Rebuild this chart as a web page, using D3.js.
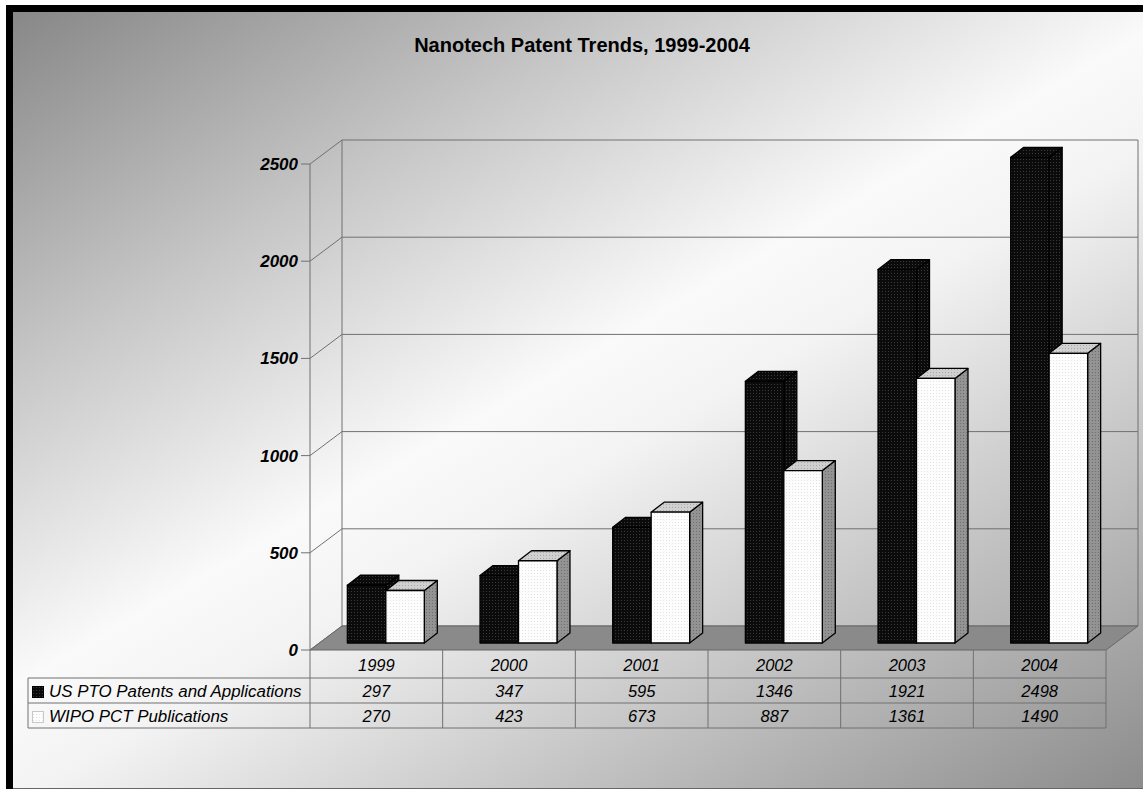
<!DOCTYPE html>
<html>
<head>
<meta charset="utf-8">
<script src="https://cdn.jsdelivr.net/npm/d3@7"></script>
<style>
	body { margin: 0; background: #ffffff; }
	text { font-family: Arial, "Liberation Sans", sans-serif; }
</style>
</head>
<body>
<div id="wrapper"></div>
<script>
const years = ["1999", "2000", "2001", "2002", "2003", "2004"];
const usPto = [297, 347, 595, 1346, 1921, 2498];
const wipo = [270, 423, 673, 887, 1361, 1490];
const seriesNames = ["US PTO Patents and Applications", "WIPO PCT Publications"];
const yTicks = [0, 500, 1000, 1500, 2000, 2500];

function drawChart() {
	let dimensions = {
		width: 1143,
		height: 789,
		plot: { left: 310, right: 1106, top: 164, bottom: 650 }
	};

	const wallDepth = { dx: 32, dy: -24 };
	const barShift = { dx: 9.5, dy: -7 };
	const barDepth = { dx: 13, dy: -10 };

	const svg = d3.select("#wrapper").append("svg")
		.attr("width", dimensions.width)
		.attr("height", dimensions.height);

	const defs = svg.append("defs");
	const grad = defs.append("linearGradient")
		.attr("id", "bg")
		.attr("gradientUnits", "userSpaceOnUse")
		.attr("x1", 0).attr("y1", 0)
		.attr("x2", 627).attr("y2", 1086);
	[[0, "#848484"], [0.26, "#c6c6c6"], [0.48, "#fafafa"], [0.56, "#f3f3f3"], [1, "#8c8c8c"]]
		.forEach(s => grad.append("stop").attr("offset", s[0]).attr("stop-color", s[1]));

	function dots(id, base, dot) {
		const p = defs.append("pattern")
			.attr("id", id)
			.attr("patternUnits", "userSpaceOnUse")
			.attr("width", 3).attr("height", 3);
		p.append("rect").attr("width", 3).attr("height", 3).attr("fill", base);
		p.append("rect").attr("width", 1).attr("height", 1).attr("fill", dot);
	}
	dots("darkDots", "#0b0b0b", "#3a3a3a");
	dots("whiteDots", "#fdfdfd", "#e3e3e3");
	dots("topDots", "#d0d0d0", "#a9a9a9");
	dots("sideDots", "#939393", "#6f6f6f");

	// frame + background
	svg.append("rect").attr("x", 6).attr("y", 5)
		.attr("width", dimensions.width - 6).attr("height", dimensions.height - 5)
		.attr("fill", "#000");
	svg.append("rect").attr("x", 13).attr("y", 12)
		.attr("width", dimensions.width - 13).attr("height", 776)
		.attr("fill", "url(#bg)");
	svg.append("line").attr("x1", 13).attr("x2", dimensions.width)
		.attr("y1", 788.5).attr("y2", 788.5)
		.attr("stroke", "#666");

	svg.append("text")
		.attr("x", 582).attr("y", 52)
		.attr("text-anchor", "middle")
		.attr("font-size", 20)
		.attr("font-weight", "bold")
		.text("Nanotech Patent Trends, 1999-2004");

	const xScale = d3.scaleBand()
		.domain(years)
		.range([dimensions.plot.left, dimensions.plot.right]);

	const yScale = d3.scaleLinear()
		.domain([0, 2500])
		.range([dimensions.plot.bottom, dimensions.plot.top]);

	const groupWidth = xScale.bandwidth() * 0.58;
	const subScale = d3.scaleBand()
		.domain(seriesNames)
		.range([(xScale.bandwidth() - groupWidth) / 2, (xScale.bandwidth() + groupWidth) / 2]);

	const left = dimensions.plot.left;
	const right = dimensions.plot.right;
	const backLeft = left + wallDepth.dx;
	const backRight = right + wallDepth.dx;
	const lineColor = "#707070";

	const walls = svg.append("g")
		.attr("fill", "none")
		.attr("stroke", lineColor)
		.attr("stroke-width", 1);

	// back wall gridlines, left wall diagonals, ticks
	yTicks.forEach(t => {
		const yy = yScale(t);
		walls.append("line")
			.attr("x1", backLeft).attr("x2", backRight)
			.attr("y1", yy + wallDepth.dy).attr("y2", yy + wallDepth.dy);
		walls.append("line")
			.attr("x1", left).attr("y1", yy)
			.attr("x2", backLeft).attr("y2", yy + wallDepth.dy);
		walls.append("line")
			.attr("x1", left - 9).attr("x2", left)
			.attr("y1", yy).attr("y2", yy);
	});
	walls.append("line")
		.attr("x1", backLeft).attr("x2", backLeft)
		.attr("y1", yScale(2500) + wallDepth.dy).attr("y2", yScale(0) + wallDepth.dy);
	walls.append("line")
		.attr("x1", backRight).attr("x2", backRight)
		.attr("y1", yScale(2500) + wallDepth.dy).attr("y2", yScale(0) + wallDepth.dy);
	walls.append("line")
		.attr("x1", left).attr("x2", left)
		.attr("y1", yScale(2500)).attr("y2", 728);

	// floor
	const floor = [
		[left, yScale(0)], [right, yScale(0)],
		[backRight, yScale(0) + wallDepth.dy], [backLeft, yScale(0) + wallDepth.dy]
	];
	svg.append("polygon")
		.attr("points", floor.map(p => p.join(",")).join(" "))
		.attr("fill", "#8a8a8a")
		.attr("stroke", "#666")
		.attr("stroke-width", 1);

	svg.append("g")
		.selectAll("text")
		.data(yTicks)
		.join("text")
		.attr("x", left - 12)
		.attr("y", d => yScale(d) + 6)
		.attr("text-anchor", "end")
		.attr("font-size", 17)
		.attr("font-weight", "bold")
		.attr("font-style", "italic")
		.text(d => d);

	// bars
	const seriesValues = [usPto, wipo];
	const faces = [
		{ front: "url(#darkDots)", top: "url(#darkDots)", side: "url(#darkDots)" },
		{ front: "url(#whiteDots)", top: "url(#topDots)", side: "url(#sideDots)" }
	];
	const bars = svg.append("g")
		.attr("stroke", "#000")
		.attr("stroke-width", 1.3)
		.attr("stroke-linejoin", "round");

	years.forEach((year, i) => {
		seriesNames.forEach((name, s) => {
			const v = seriesValues[s][i];
			const x0 = xScale(year) + subScale(name) + barShift.dx;
			const x1 = x0 + subScale.bandwidth();
			const yTop = yScale(v) + barShift.dy;
			const yBase = yScale(0) + barShift.dy;
			const g = bars.append("g");
			g.append("polygon")
				.attr("points", [[x1, yBase], [x1 + barDepth.dx, yBase + barDepth.dy],
					[x1 + barDepth.dx, yTop + barDepth.dy], [x1, yTop]].map(p => p.join(",")).join(" "))
				.attr("fill", faces[s].side);
			g.append("polygon")
				.attr("points", [[x0, yTop], [x0 + barDepth.dx, yTop + barDepth.dy],
					[x1 + barDepth.dx, yTop + barDepth.dy], [x1, yTop]].map(p => p.join(",")).join(" "))
				.attr("fill", faces[s].top);
			g.append("rect")
				.attr("x", x0).attr("y", yTop)
				.attr("width", x1 - x0).attr("height", yBase - yTop)
				.attr("fill", faces[s].front);
		});
	});

	// data table
	const table = svg.append("g")
		.attr("stroke", lineColor)
		.attr("stroke-width", 1);
	const rowLines = [678, 703, 728];
	rowLines.forEach(r => {
		table.append("line")
			.attr("x1", 28).attr("x2", right)
			.attr("y1", r).attr("y2", r);
	});
	years.forEach(year => {
		table.append("line")
			.attr("x1", xScale(year) + xScale.bandwidth()).attr("x2", xScale(year) + xScale.bandwidth())
			.attr("y1", yScale(0)).attr("y2", 728);
	});
	table.append("line")
		.attr("x1", 28).attr("x2", 28)
		.attr("y1", 678).attr("y2", 728);

	const cells = svg.append("g")
		.attr("font-size", 16.5)
		.attr("font-style", "italic")
		.attr("text-anchor", "middle");
	const cellX = d => xScale(d) + xScale.bandwidth() / 2;
	cells.selectAll(".yr")
		.data(years)
		.join("text")
		.attr("class", "yr")
		.attr("x", cellX)
		.attr("y", 671)
		.text(d => d);
	seriesValues.forEach((vals, s) => {
		cells.selectAll(".v" + s)
			.data(vals)
			.join("text")
			.attr("class", "v" + s)
			.attr("x", (d, i) => cellX(years[i]))
			.attr("y", 697 + s * 25)
			.text(d => d);
	});

	const legend = svg.append("g");
	seriesNames.forEach((name, s) => {
		legend.append("rect")
			.attr("x", 32.5).attr("y", 686.5 + s * 25)
			.attr("width", 11).attr("height", 11)
			.attr("fill", s === 0 ? "url(#darkDots)" : "url(#whiteDots)")
			.attr("stroke", s === 0 ? "#000" : "#c8c8c8");
		legend.append("text")
			.attr("x", 49).attr("y", 697 + s * 25)
			.attr("font-size", 16.9)
			.attr("font-style", "italic")
			.text(name);
	});
}

drawChart();
</script>
</body>
</html>
